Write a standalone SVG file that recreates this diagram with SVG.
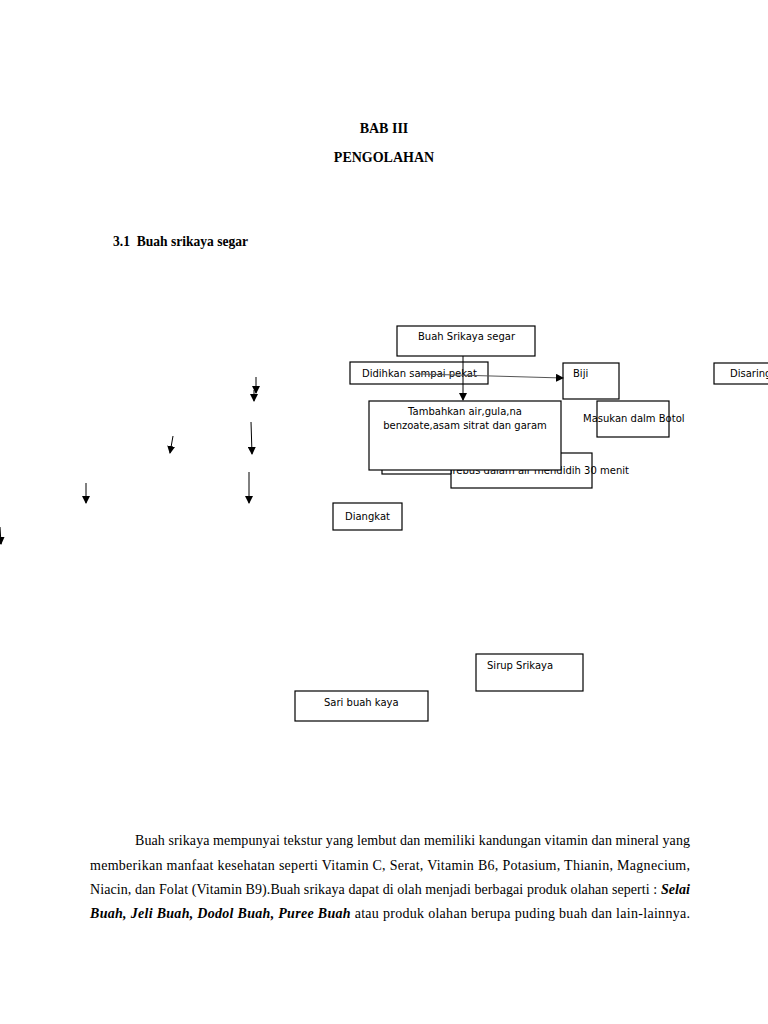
<svg xmlns="http://www.w3.org/2000/svg" width="768" height="1024" viewBox="0 0 768 1024">
<style>
.bg{fill:#fff}
.box{fill:#fff;stroke:#000;stroke-width:1.2}
.lbl{font-family:"DejaVu Sans",sans-serif;font-size:10px;fill:#000}
.ttl{font-family:"Liberation Serif",serif;font-size:14px;font-weight:bold;fill:#000}
.para{font-family:"Liberation Serif",serif;font-size:14px;fill:#000}
.bi{font-weight:bold;font-style:italic}
.con{stroke:#000;stroke-width:1;fill:none}
.con2{stroke:#555;stroke-width:1;fill:none}
</style>
<defs>
<marker id="ah" markerWidth="8" markerHeight="8" refX="7" refY="4" orient="auto" markerUnits="userSpaceOnUse">
<path d="M0,0 L8,4 L0,8 Z" fill="#000"/>
</marker>
<clipPath id="rebusClip"><rect x="451" y="440" width="317" height="60"/></clipPath>
</defs>
<rect class="bg" x="0" y="0" width="768" height="1024"/>

<text class="ttl" x="384" y="133" text-anchor="middle">BAB III</text>
<text class="ttl" x="384" y="162" text-anchor="middle">PENGOLAHAN</text>
<text class="ttl" x="113" y="246" xml:space="preserve" textLength="135" lengthAdjust="spacingAndGlyphs">3.1  Buah srikaya segar</text>

<g id="n-buah"><rect class="box" x="397" y="326" width="138" height="30"/><text class="lbl" x="418" y="340">Buah Srikaya segar</text></g>
<g id="n-didihkan"><rect class="box" x="350" y="362" width="138" height="22"/><text class="lbl" x="362" y="377">Didihkan sampai pekat</text></g>
<g id="n-biji"><rect class="box" x="563" y="363" width="56" height="36"/><text class="lbl" x="573" y="377">Biji</text></g>
<g id="n-disaring"><rect class="box" x="714" y="363" width="60" height="21"/><text class="lbl" x="730" y="377">Disaring</text></g>
<g id="n-behind"><rect class="box" x="382" y="455" width="120" height="19"/></g>
<g id="n-rebus"><rect class="box" x="451" y="453" width="141" height="35"/><text class="lbl" x="442" y="474" clip-path="url(#rebusClip)">Direbus dalam air mendidih 30 menit</text></g>
<g id="n-tambahkan"><rect class="box" x="369" y="401" width="192" height="69"/><text class="lbl" x="465" y="415" text-anchor="middle">Tambahkan air,gula,na</text><text class="lbl" x="465" y="429" text-anchor="middle">benzoate,asam sitrat dan garam</text></g>
<g id="n-masukan"><rect class="box" x="597" y="401" width="72" height="36"/><text class="lbl" x="583" y="422">Masukan dalm Botol</text></g>
<g id="n-diangkat"><rect class="box" x="333" y="503" width="69" height="27"/><text class="lbl" x="345" y="520">Diangkat</text></g>
<g id="n-sirup"><rect class="box" x="476" y="654" width="107" height="37"/><text class="lbl" x="487" y="669">Sirup Srikaya</text></g>
<g id="n-sari"><rect class="box" x="295" y="691" width="133" height="30"/><text class="lbl" x="324" y="706">Sari buah kaya</text></g>

<g id="connectors">
<line class="con" x1="463" y1="356" x2="463" y2="400" marker-end="url(#ah)"/>
<line class="con2" x1="420" y1="374" x2="563" y2="378" marker-end="url(#ah)"/>
<line class="con" x1="256" y1="377" x2="256" y2="393" marker-end="url(#ah)"/>
<line class="con" x1="254" y1="390" x2="254" y2="401" marker-end="url(#ah)"/>
<line class="con" x1="173" y1="436" x2="170" y2="453" marker-end="url(#ah)"/>
<line class="con" x1="251" y1="422" x2="252" y2="454" marker-end="url(#ah)"/>
<line class="con" x1="86" y1="483" x2="86" y2="503" marker-end="url(#ah)"/>
<line class="con" x1="249" y1="472" x2="249" y2="503" marker-end="url(#ah)"/>
<line class="con" x1="0" y1="527" x2="1" y2="544" marker-end="url(#ah)"/>
</g>

<text class="para" x="135" y="845" textLength="555" lengthAdjust="spacing">Buah srikaya mempunyai tekstur yang lembut dan memiliki kandungan vitamin dan mineral yang</text>
<text class="para" x="90" y="870" textLength="600" lengthAdjust="spacing">memberikan manfaat kesehatan seperti Vitamin C, Serat, Vitamin B6, Potasium, Thianin, Magnecium,</text>
<text class="para" x="90" y="894" textLength="600" lengthAdjust="spacing">Niacin, dan Folat (Vitamin B9).Buah srikaya dapat di olah menjadi berbagai produk olahan seperti : <tspan class="bi">Selai</tspan></text>
<text class="para" x="90" y="918" textLength="600" lengthAdjust="spacing"><tspan class="bi">Buah, Jeli Buah, Dodol Buah, Puree Buah</tspan> atau produk olahan berupa puding buah dan lain-lainnya.</text>
</svg>
